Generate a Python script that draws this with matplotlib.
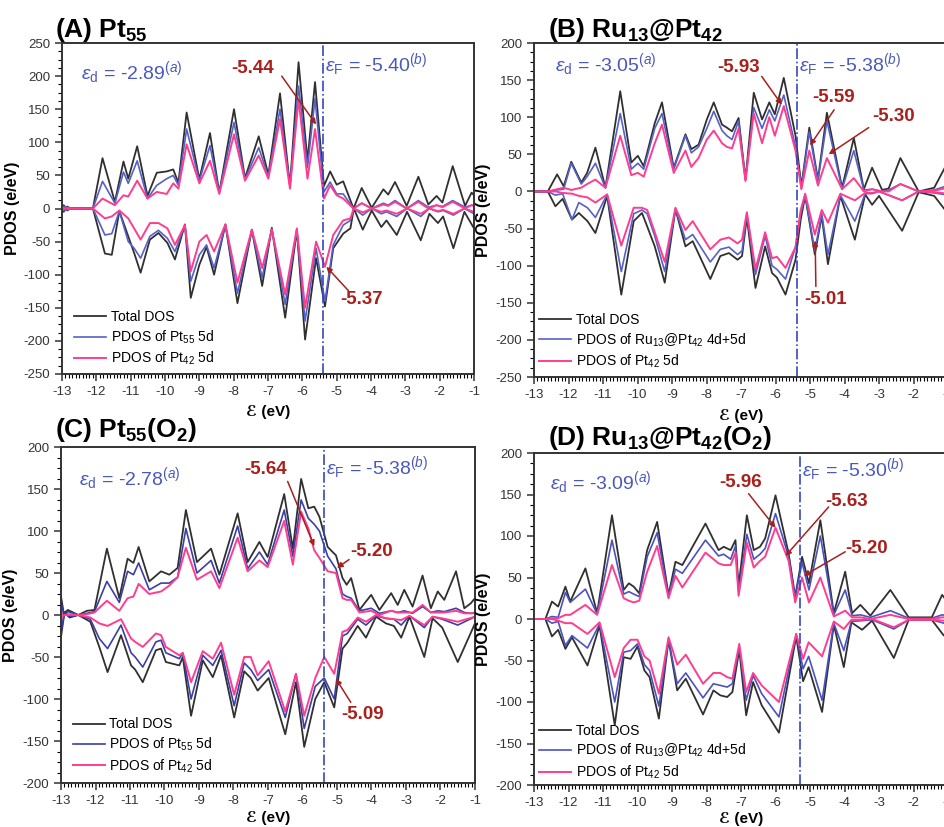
import matplotlib
matplotlib.use('Agg')
import matplotlib.pyplot as plt
from matplotlib.ticker import MultipleLocator

plt.rcParams['font.family'] = ['Liberation Sans', 'DejaVu Sans']
plt.rcParams['mathtext.fontset'] = 'custom'
plt.rcParams['mathtext.rm'] = 'Liberation Sans'
plt.rcParams['mathtext.it'] = 'Liberation Sans:italic'
plt.rcParams['mathtext.bf'] = 'Liberation Sans:bold'
plt.rcParams['mathtext.sf'] = 'Liberation Sans'
plt.rcParams['axes.unicode_minus'] = False
plt.rcParams['lines.solid_joinstyle'] = 'round'

# ---------------- Panel A: Pt55 ----------------
A_up_E = [-13.0, -12.95, -12.85, -12.75, -12.1, -11.82, -11.46, -11.21, -11.07, -10.81, -10.51, -10.24, -9.95, -9.76, -9.61, -9.37, -9.0, -8.69, -8.42, -7.99, -7.67, -7.27, -6.99, -6.65, -6.36, -6.11, -5.85, -5.63, -5.37, -5.19, -5.0, -4.81, -4.51, -4.27, -3.98, -3.64, -3.5, -3.3, -2.96, -2.62, -2.33, -2.09, -1.92, -1.62, -1.26, -1.07, -1.0]
A_up_tot = [0, 5, -3, 0, 0, 76, 10, 71, 45, 94, 19, 54, 56, 59, 39, 145, 44, 114, 24, 150, 46, 109, 51, 174, 34, 221, 72, 191, 34, 56, 36, 41, 0, 31, 1, 29, 21, 40, 4, 48, 6, 19, 9, 64, 4, 24, 20]
A_up_b = [0, 3, -2, 0, 0, 41, 8, 55, 38, 72, 15, 35, 45, 50, 35, 120, 42, 95, 24, 130, 44, 92, 48, 150, 34, 185, 62, 166, 25, 40, 22, 22, 0, 8, 0, 8, 5, 12, 0, 12, 2, 5, 3, 12, 2, 5, 4]
A_up_p = [0, 1, -1, 0, 0, 15, 5, 20, 18, 42, 15, 25, 22, 38, 30, 97, 38, 72, 22, 112, 42, 80, 45, 135, 30, 165, 45, 120, 15, 35, 20, 15, 0, 8, 0, 6, 4, 10, 0, 10, 0, 5, 2, 10, 0, 5, 4]
A_dn_E = [-13.0, -12.95, -12.85, -12.75, -12.1, -11.75, -11.55, -11.33, -11.07, -10.9, -10.71, -10.44, -10.19, -9.93, -9.71, -9.42, -9.25, -9.0, -8.79, -8.57, -8.24, -7.89, -7.47, -7.17, -6.89, -6.5, -6.16, -5.92, -5.6, -5.34, -5.1, -4.81, -4.6, -4.5, -4.24, -3.98, -3.7, -3.55, -3.25, -2.95, -2.55, -2.3, -2.05, -1.9, -1.6, -1.28, -1.0]
A_dn_tot = [0, -5, 3, 0, 0, -68, -70, -4, -42, -67, -97, -47, -37, -52, -77, -24, -135, -85, -58, -100, -24, -143, -32, -117, -29, -165, -33, -198, -75, -148, -60, -38, -30, 0, -32, -3, -28, -18, -40, -5, -48, -8, -22, -12, -60, -5, -30]
A_dn_b = [0, -3, 2, 0, 0, -40, -38, -4, -50, -60, -75, -42, -33, -45, -65, -25, -110, -70, -55, -90, -25, -128, -32, -105, -30, -145, -32, -170, -60, -140, -55, -25, -18, 0, -10, 0, -8, -5, -12, 0, -12, 0, -5, -3, -10, 0, -8]
A_dn_p = [0, -1, 1, 0, 0, -15, -12, -3, -15, -30, -47, -22, -22, -30, -55, -25, -95, -50, -40, -65, -24, -112, -32, -90, -32, -130, -30, -150, -50, -88, -40, -18, -15, 0, -6, 0, -5, -3, -8, 0, -8, 0, -4, -2, -8, 0, -5]

# ---------------- Panel B: Ru13@Pt42 ----------------
B_up_E = [-13.0, -12.6, -12.33, -12.14, -11.92, -11.63, -11.46, -11.22, -10.93, -10.50, -10.18, -9.99, -9.82, -9.5, -9.29, -8.95, -8.61, -8.44, -8.23, -7.99, -7.79, -7.55, -7.41, -7.26, -7.07, -6.87, -6.63, -6.39, -6.18, -6.02, -5.76, -5.42, -5.25, -5.02, -4.77, -4.51, -4.07, -3.73, -3.44, -3.2, -2.91, -2.72, -2.38, -1.85, -1.4, -1.0]
B_up_tot = [0, 0, 23, 7, 40, 12, 25, 59, 5, 135, 39, 48, 34, 92, 120, 32, 77, 57, 63, 97, 120, 90, 86, 81, 99, 16, 133, 97, 120, 104, 153, 75, 7, 86, 16, 106, 5, 72, 3, 32, 2, 4, 45, 0, 5, 40]
B_up_b = [0, 0, 2, 3, 38, 10, 20, 38, 5, 105, 30, 38, 30, 85, 105, 30, 75, 52, 60, 85, 108, 82, 75, 70, 95, 16, 113, 85, 110, 95, 130, 60, 5, 80, 14, 95, 3, 55, 2, 3, 0, 2, 10, 0, 2, 8]
B_up_p = [0, 0, 3, 5, 2, 5, 10, 16, 5, 75, 22, 25, 20, 65, 90, 25, 55, 33, 45, 70, 82, 65, 60, 58, 85, 14, 105, 65, 100, 75, 115, 55, 3, 55, 8, 45, 3, 18, 0, 3, 0, 0, 10, 0, 1, 5]
B_dn_E = [-13.0, -12.6, -12.38, -12.17, -11.9, -11.7, -11.45, -11.22, -10.88, -10.47, -10.11, -9.87, -9.72, -9.5, -9.21, -8.9, -8.61, -8.4, -7.89, -7.6, -7.35, -7.1, -6.97, -6.83, -6.58, -6.3, -6.1, -5.96, -5.71, -5.42, -5.27, -5.14, -4.86, -4.66, -4.48, -4.12, -3.7, -3.4, -3.2, -3.0, -2.33, -1.85, -1.4, -1.0]
B_dn_tot = [0, 0, -20, -10, -38, -29, -40, -56, -6, -139, -40, -29, -47, -74, -123, -24, -74, -67, -118, -87, -83, -92, -87, -35, -130, -74, -110, -116, -139, -92, -38, -6, -85, -33, -98, -6, -65, -4, -18, -6, -53, -1, -6, -30]
B_dn_b = [0, 0, -5, -3, -38, -15, -22, -35, -4, -108, -30, -25, -30, -60, -108, -24, -65, -58, -95, -78, -75, -85, -80, -30, -112, -60, -100, -105, -118, -75, -30, -5, -80, -30, -85, -5, -40, -3, -3, 0, -12, 0, -2, -5]
B_dn_p = [0, 0, 0, -2, -3, -6, -8, -15, -4, -73, -22, -22, -25, -55, -95, -22, -52, -40, -78, -65, -62, -70, -65, -28, -105, -55, -90, -88, -103, -75, -25, -3, -58, -25, -42, -3, -12, -2, -2, 0, -12, 0, -1, -3]

# ---------------- Panel C: Pt55(O2) ----------------
C_up_E = [-13.0, -12.92, -12.8, -12.5, -12.25, -12.03, -11.67, -11.31, -11.07, -10.9, -10.75, -10.44, -10.1, -9.86, -9.62, -9.38, -9.06, -8.65, -8.41, -7.88, -7.59, -7.25, -7.01, -6.53, -6.28, -6.04, -5.83, -5.66, -5.51, -5.27, -5.03, -4.84, -4.72, -4.59, -4.35, -4.01, -3.77, -3.43, -3.24, -3.05, -2.81, -2.52, -2.28, -2.08, -1.89, -1.55, -1.31, -1.12, -1.0]
C_up_tot = [22, 2, 6, 0, 5, 6, 79, 20, 67, 62, 81, 40, 52, 48, 56, 125, 63, 79, 48, 121, 63, 87, 69, 144, 79, 162, 127, 129, 117, 81, 71, 44, 36, 44, 6, 24, 6, 26, 12, 30, 10, 47, 8, 28, 18, 52, 8, 14, 20]
C_up_b = [15, 1, 4, 0, 2, 4, 40, 15, 52, 48, 62, 30, 38, 38, 45, 103, 50, 65, 38, 106, 55, 75, 60, 125, 70, 137, 115, 108, 100, 70, 55, 25, 22, 20, 5, 8, 2, 5, 3, 5, 2, 10, 3, 5, 4, 8, 3, 2, 3]
C_up_p = [3, 0, 1, 0, 1, 3, 17, 5, 20, 22, 37, 25, 28, 35, 45, 80, 42, 52, 32, 92, 52, 65, 57, 112, 60, 123, 103, 77, 68, 52, 50, 20, 18, 18, 3, 5, 0, 5, 3, 3, 3, 12, 3, 3, 3, 5, 2, 2, 2]
C_dn_E = [-13.0, -12.9, -12.75, -12.5, -12.15, -11.89, -11.65, -11.26, -10.97, -10.85, -10.63, -10.25, -10.1, -9.96, -9.57, -9.47, -9.23, -8.89, -8.6, -8.36, -7.98, -7.69, -7.5, -7.3, -6.98, -6.5, -6.19, -5.95, -5.63, -5.37, -5.08, -4.84, -4.7, -4.4, -4.16, -3.87, -3.58, -3.35, -3.14, -2.9, -2.47, -2.23, -1.95, -1.5, -1.0]
C_dn_tot = [-26, 3, -3, 0, -8, -38, -68, -24, -60, -65, -80, -42, -40, -56, -60, -50, -120, -54, -74, -48, -122, -67, -75, -90, -75, -142, -80, -157, -100, -80, -110, -40, -33, -13, -27, -2, -10, -13, -27, -2, -50, -4, -15, -56, -10]
C_dn_b = [-20, 2, -2, 0, -5, -28, -40, -12, -45, -50, -62, -32, -30, -45, -52, -45, -100, -48, -60, -42, -108, -57, -65, -78, -65, -122, -70, -135, -85, -75, -100, -25, -22, -5, -12, -1, -4, -5, -12, -1, -15, -2, -5, -12, -2]
C_dn_p = [-3, 0, 0, 0, -3, -10, -13, -5, -28, -32, -38, -22, -24, -38, -48, -45, -80, -43, -52, -33, -95, -50, -50, -72, -55, -115, -70, -120, -75, -50, -70, -20, -18, -3, -8, 0, -4, -5, -6, -1, -12, -2, -4, -8, -2]

# ---------------- Panel D: Ru13@Pt42(O2) ----------------
D_up_E = [-13.0, -12.67, -12.48, -12.3, -12.09, -11.95, -11.51, -11.17, -10.74, -10.40, -10.25, -10.11, -9.95, -9.72, -9.43, -9.1, -8.9, -8.7, -8.03, -7.65, -7.5, -7.3, -7.16, -7.07, -6.83, -6.63, -6.45, -6.3, -6.0, -5.62, -5.43, -5.23, -5.03, -4.70, -4.31, -3.98, -3.78, -3.54, -3.25, -2.67, -2.14, -1.47, -1.17, -1.0]
D_up_tot = [0, 0, 21, 15, 39, 21, 61, 7, 125, 35, 43, 39, 31, 83, 117, 29, 69, 65, 115, 83, 87, 83, 95, 39, 125, 83, 87, 97, 149, 79, 27, 75, 43, 119, 7, 57, 7, 17, 4, 35, 2, 2, 29, 20]
D_up_b = [0, 0, 3, 2, 32, 20, 36, 6, 95, 30, 33, 30, 27, 75, 104, 28, 60, 55, 95, 76, 78, 72, 88, 33, 102, 72, 78, 85, 127, 75, 26, 68, 35, 100, 5, 35, 4, 5, 2, 10, 1, 1, 5, 4]
D_up_p = [0, 0, 1, 1, 5, 5, 17, 5, 65, 25, 22, 20, 22, 57, 88, 25, 52, 38, 80, 67, 65, 65, 80, 28, 92, 62, 70, 75, 110, 70, 20, 50, 20, 50, 3, 10, 2, 2, 0, 5, 0, 0, 2, 2]
D_dn_E = [-13.0, -12.67, -12.48, -12.3, -12.09, -11.9, -11.45, -11.1, -10.66, -10.4, -10.2, -10.0, -9.8, -9.65, -9.38, -9.1, -8.85, -8.6, -8.1, -7.8, -7.6, -7.4, -7.25, -7.05, -6.85, -6.65, -6.4, -5.9, -5.4, -5.2, -5.04, -4.65, -4.31, -4.02, -3.8, -3.49, -3.2, -2.57, -2.14, -1.47, -1.12, -1.0]
D_dn_tot = [0, 0, -21, -13, -36, -22, -56, -8, -128, -46, -48, -33, -62, -70, -120, -25, -86, -72, -115, -86, -92, -94, -88, -37, -116, -76, -104, -137, -21, -75, -58, -112, -7, -58, -4, -13, -2, -47, -1, -1, -20, -15]
D_dn_b = [0, 0, -5, -3, -32, -20, -35, -6, -100, -40, -38, -30, -55, -62, -105, -25, -78, -65, -95, -78, -80, -82, -78, -33, -98, -68, -90, -118, -18, -60, -45, -98, -5, -38, -3, -2, -1, -12, -1, -1, -5, -4]
D_dn_p = [0, 0, 0, -2, -5, -5, -18, -4, -70, -35, -25, -25, -45, -50, -90, -22, -55, -43, -78, -65, -65, -70, -72, -30, -88, -65, -80, -100, -18, -48, -28, -45, -3, -12, -1, -1, 0, -10, -1, -1, -2, -2]

titles = [r'(A) $\mathbf{Pt_{55}}$', r'(B) $\mathbf{Ru_{13}@Pt_{42}}$',
          r'(C) $\mathbf{Pt_{55}(O_2)}$', r'(D) $\mathbf{Ru_{13}@Pt_{42}(O_2)}$']
eps_d = ['-2.89', '-3.05', '-2.78', '-3.09']
eps_F = [-5.40, -5.38, -5.38, -5.30]
ylims = [(-250, 250), (-250, 200), (-200, 200), (-200, 200)]
legend_labels = [
    ['Total DOS', r'PDOS of Pt$_{55}$ 5d', r'PDOS of Pt$_{42}$ 5d'],
    ['Total DOS', r'PDOS of Ru$_{13}$@Pt$_{42}$ 4d+5d', r'PDOS of Pt$_{42}$ 5d'],
    ['Total DOS', r'PDOS of Pt$_{55}$ 5d', r'PDOS of Pt$_{42}$ 5d'],
    ['Total DOS', r'PDOS of Ru$_{13}$@Pt$_{42}$ 4d+5d', r'PDOS of Pt$_{42}$ 5d'],
]
# annotations: label, text pos, arrow start, arrow end
annots = [
    [('-5.44', (-7.45, 212), (-6.6, 200), (-5.6, 127)),
     ('-5.37', (-4.27, -137), (-4.66, -124), (-5.3, -88))],
    [('-5.93', (-7.07, 167), (-6.4, 155), (-5.82, 117)),
     ('-5.59', (-4.31, 126), (-4.3, 110), (-5.0, 62)),
     ('-5.30', (-2.57, 101), (-3.3, 86), (-4.46, 50)),
     ('-5.01', (-4.55, -145), (-4.83, -128), (-4.85, -66))],
    [('-5.64', (-7.06, 173), (-6.43, 159), (-5.66, 82)),
     ('-5.20', (-4.01, 75), (-4.65, 66), (-5.0, 56)),
     ('-5.09', (-4.25, -119), (-4.6, -104), (-5.03, -76))],
    [('-5.96', (-7.02, 165), (-6.78, 151), (-6.0, 110)),
     ('-5.63', (-3.93, 141), (-4.46, 135), (-5.71, 76)),
     ('-5.20', (-3.35, 85), (-3.98, 81), (-5.18, 52))],
]

panels = [
    (A_up_E, A_up_tot, A_up_b, A_up_p, A_dn_E, A_dn_tot, A_dn_b, A_dn_p),
    (B_up_E, B_up_tot, B_up_b, B_up_p, B_dn_E, B_dn_tot, B_dn_b, B_dn_p),
    (C_up_E, C_up_tot, C_up_b, C_up_p, C_dn_E, C_dn_tot, C_dn_b, C_dn_p),
    (D_up_E, D_up_tot, D_up_b, D_up_p, D_dn_E, D_dn_tot, D_dn_b, D_dn_p),
]

W, H = 944, 827
# axes boxes in pixels: left, top, right, bottom
boxes = [(62, 43, 474, 374), (534, 43, 948, 377), (61, 447, 475, 783), (534, 453, 948, 785)]
title_pos = [(55, 37), (548, 37), (55, 437), (548, 445)]
xlab_off = [-0.095, -0.095, -0.082, -0.08]
ed_pos = [(-12.45, 205), (-12.4, 171), (-12.47, 163), (-12.55, 165)]
ef_pos = [(-5.35, 218), (-5.33, 171), (-5.32, 175), (-5.22, 180)]
leg_anchor = [(0.03, 0.02), (0.012, 0.02), (0.028, 0.025), (0.012, 0.012)]

BLACK = '#303030'
BLUE = ['#5561c8', '#5561c8', '#3a3fa8', '#4a52c0']
PINK = '#ff3d8e'
RED = '#a8201c'
TXTBLUE = '#4a58bd'
FERMI = '#3347c0'

fig = plt.figure(figsize=(W / 100, H / 100), dpi=100)

for i in range(4):
    l, t, r, b = boxes[i]
    ax = fig.add_axes([l / W, 1 - b / H, (r - l) / W, (b - t) / H])
    Eu, tu, bu, pu, Ed, td, bd, pd = panels[i]
    h1, = ax.plot(Eu, tu, color=BLACK, lw=1.3)
    h2, = ax.plot(Eu, bu, color=BLUE[i], lw=1.2)
    h3, = ax.plot(Eu, pu, color=PINK, lw=1.4)
    ax.plot(Ed, td, color=BLACK, lw=1.3)
    ax.plot(Ed, bd, color=BLUE[i], lw=1.2)
    ax.plot(Ed, pd, color=PINK, lw=1.4)
    ax.axvline(eps_F[i], color=FERMI, lw=1.2, ls='-.')
    ax.set_xlim(-13, -1)
    ax.set_ylim(*ylims[i])
    ax.xaxis.set_major_locator(MultipleLocator(1))
    ax.xaxis.set_minor_locator(MultipleLocator(0.1))
    ax.yaxis.set_major_locator(MultipleLocator(50))
    ax.yaxis.set_minor_locator(MultipleLocator(12.5))
    ax.tick_params(which='major', direction='out', length=5, width=1.1,
                   labelsize=9.5, colors='#333333', top=False, right=False)
    ax.tick_params(which='minor', direction='out', length=3, width=0.8,
                   top=False, right=False)
    for s in ax.spines.values():
        s.set_linewidth(1.4)
        s.set_color('#333333')
    ax.set_ylabel('PDOS (e/eV)', fontsize=11.5, fontweight='bold')
    ax.yaxis.set_label_coords(-0.103, 0.5)
    ax.set_xlabel('\u2130 (eV)', fontsize=11, fontweight='bold')
    ax.xaxis.set_label_coords(0.5, xlab_off[i])

    ax.text(ed_pos[i][0], ed_pos[i][1],
            r'$\epsilon$$_\mathregular{d}$ = ' + eps_d[i] + r'$^{\mathit{(a)}}$',
            color=TXTBLUE, fontsize=14, va='center', ha='left')
    ax.text(ef_pos[i][0], ef_pos[i][1],
            r'$\epsilon$$_\mathregular{F}$ = ' + '%.2f' % eps_F[i] + r'$^{\mathit{(b)}}$',
            color=TXTBLUE, fontsize=14, va='center', ha='left')

    for lab, tp, a0, a1 in annots[i]:
        ax.text(tp[0], tp[1], lab, color=RED, fontsize=13.5, fontweight='bold',
                ha='center', va='center')
        ax.annotate('', xy=a1, xytext=a0,
                    arrowprops=dict(arrowstyle='-|>', color=RED, lw=1.1,
                                    mutation_scale=8, shrinkA=0, shrinkB=0))

    ax.legend([h1, h2, h3], legend_labels[i], loc='lower left',
              bbox_to_anchor=leg_anchor[i], frameon=False, fontsize=10,
              handlelength=2.3, handletextpad=0.35, labelspacing=0.3,
              borderpad=0, borderaxespad=0)

    fig.text(title_pos[i][0] / W, 1 - title_pos[i][1] / H, titles[i],
             fontsize=19, fontweight='bold', ha='left', va='baseline')

fig.savefig('out.png', dpi=100)
